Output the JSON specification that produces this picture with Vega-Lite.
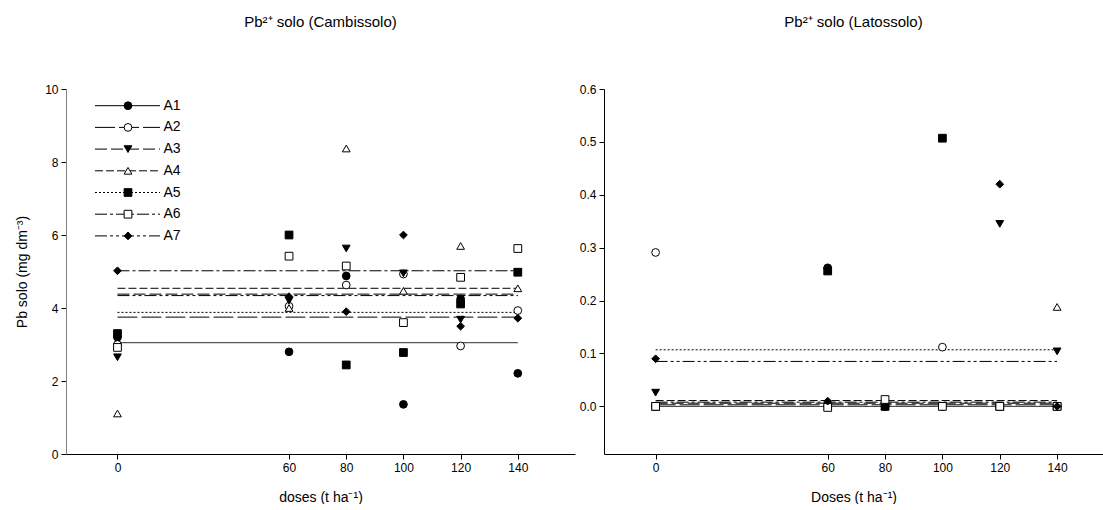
{
  "$schema": "https://vega.github.io/schema/vega-lite/v6.json",
  "padding": {"left": 15, "top": 15, "right": 0, "bottom": 0},
  "bounds": "flush",
  "spacing": 29,
  "background": "white",
  "config": {
    "font": "Liberation Sans",
    "view": {"stroke": null},
    "axis": {"grid": false, "labelFont": "Liberation Sans", "labelFontSize": 12, "labelColor": "#000", "labelFlush": false, "titleFont": "Liberation Sans", "titleFontSize": 14, "titleFontWeight": "normal", "titleColor": "#000", "domainColor": "#000", "tickColor": "#000", "tickSize": 5, "labelPadding": 3},
    "title": {"font": "Liberation Sans", "fontSize": 15, "fontWeight": "normal", "color": "#000"}
  },
  "resolve": {"scale": {"shape": "independent", "fill": "independent", "size": "independent", "strokeDash": "independent"}},
  "datasets": {
    "camb_pts": [
      {"series": "A1", "dose": 0, "value": 3.2}, {"series": "A1", "dose": 60, "value": 2.8}, {"series": "A1", "dose": 80, "value": 4.88}, {"series": "A1", "dose": 100, "value": 1.36}, {"series": "A1", "dose": 120, "value": 4.25}, {"series": "A1", "dose": 140, "value": 2.21},
      {"series": "A2", "dose": 0, "value": 3.0}, {"series": "A2", "dose": 60, "value": 4.05}, {"series": "A2", "dose": 80, "value": 4.63}, {"series": "A2", "dose": 100, "value": 4.93}, {"series": "A2", "dose": 120, "value": 2.96}, {"series": "A2", "dose": 140, "value": 3.93},
      {"series": "A3", "dose": 0, "value": 2.65}, {"series": "A3", "dose": 60, "value": 4.2}, {"series": "A3", "dose": 80, "value": 5.63}, {"series": "A3", "dose": 100, "value": 4.95}, {"series": "A3", "dose": 120, "value": 3.68}, {"series": "A3", "dose": 140, "value": 4.98},
      {"series": "A4", "dose": 0, "value": 1.11}, {"series": "A4", "dose": 60, "value": 4.0}, {"series": "A4", "dose": 80, "value": 8.37}, {"series": "A4", "dose": 100, "value": 4.47}, {"series": "A4", "dose": 120, "value": 5.7}, {"series": "A4", "dose": 140, "value": 4.54},
      {"series": "A5", "dose": 0, "value": 3.3}, {"series": "A5", "dose": 60, "value": 6.0}, {"series": "A5", "dose": 80, "value": 2.44}, {"series": "A5", "dose": 100, "value": 2.78}, {"series": "A5", "dose": 120, "value": 4.11}, {"series": "A5", "dose": 140, "value": 4.98},
      {"series": "A6", "dose": 0, "value": 2.92}, {"series": "A6", "dose": 60, "value": 5.42}, {"series": "A6", "dose": 80, "value": 5.15}, {"series": "A6", "dose": 100, "value": 3.6}, {"series": "A6", "dose": 120, "value": 4.84}, {"series": "A6", "dose": 140, "value": 5.63},
      {"series": "A7", "dose": 0, "value": 5.02}, {"series": "A7", "dose": 60, "value": 4.31}, {"series": "A7", "dose": 80, "value": 3.9}, {"series": "A7", "dose": 100, "value": 6.0}, {"series": "A7", "dose": 120, "value": 3.5}, {"series": "A7", "dose": 140, "value": 3.72}
    ],
    "camb_lines": [
      {"series": "A1", "dose": 0, "value": 3.05}, {"series": "A1", "dose": 140, "value": 3.05},
      {"series": "A2", "dose": 0, "value": 3.75}, {"series": "A2", "dose": 140, "value": 3.75},
      {"series": "A3", "dose": 0, "value": 4.38}, {"series": "A3", "dose": 140, "value": 4.38},
      {"series": "A4", "dose": 0, "value": 4.54}, {"series": "A4", "dose": 140, "value": 4.54},
      {"series": "A5", "dose": 0, "value": 3.88}, {"series": "A5", "dose": 140, "value": 3.88},
      {"series": "A6", "dose": 0, "value": 5.02}, {"series": "A6", "dose": 140, "value": 5.02},
      {"series": "A7", "dose": 0, "value": 4.34}, {"series": "A7", "dose": 140, "value": 4.34}
    ],
    "lato_pts": [
      {"series": "A1", "dose": 0, "value": 0}, {"series": "A1", "dose": 60, "value": 0.262}, {"series": "A1", "dose": 80, "value": 0}, {"series": "A1", "dose": 100, "value": 0}, {"series": "A1", "dose": 120, "value": 0}, {"series": "A1", "dose": 140, "value": 0},
      {"series": "A2", "dose": 0, "value": 0.291}, {"series": "A2", "dose": 60, "value": 0}, {"series": "A2", "dose": 80, "value": 0}, {"series": "A2", "dose": 100, "value": 0.112}, {"series": "A2", "dose": 120, "value": 0}, {"series": "A2", "dose": 140, "value": 0},
      {"series": "A3", "dose": 0, "value": 0.026}, {"series": "A3", "dose": 60, "value": 0}, {"series": "A3", "dose": 80, "value": 0}, {"series": "A3", "dose": 100, "value": 0}, {"series": "A3", "dose": 120, "value": 0.345}, {"series": "A3", "dose": 140, "value": 0.104},
      {"series": "A4", "dose": 0, "value": 0}, {"series": "A4", "dose": 60, "value": 0}, {"series": "A4", "dose": 80, "value": 0}, {"series": "A4", "dose": 100, "value": 0}, {"series": "A4", "dose": 120, "value": 0}, {"series": "A4", "dose": 140, "value": 0.188},
      {"series": "A5", "dose": 0, "value": 0}, {"series": "A5", "dose": 60, "value": 0.256}, {"series": "A5", "dose": 80, "value": 0}, {"series": "A5", "dose": 100, "value": 0.507}, {"series": "A5", "dose": 120, "value": 0}, {"series": "A5", "dose": 140, "value": 0},
      {"series": "A6", "dose": 0, "value": 0}, {"series": "A6", "dose": 60, "value": -0.002}, {"series": "A6", "dose": 80, "value": 0.013}, {"series": "A6", "dose": 100, "value": 0}, {"series": "A6", "dose": 120, "value": 0}, {"series": "A6", "dose": 140, "value": 0},
      {"series": "A7", "dose": 0, "value": 0.09}, {"series": "A7", "dose": 60, "value": 0.01}, {"series": "A7", "dose": 120, "value": 0.42}, {"series": "A7", "dose": 140, "value": 0}
    ],
    "lato_lines": [
      {"series": "A1", "dose": 0, "value": 0.0}, {"series": "A1", "dose": 140, "value": 0.0},
      {"series": "A2", "dose": 0, "value": 0.003}, {"series": "A2", "dose": 140, "value": 0.003},
      {"series": "A3", "dose": 0, "value": 0.006}, {"series": "A3", "dose": 140, "value": 0.006},
      {"series": "A4", "dose": 0, "value": 0.011}, {"series": "A4", "dose": 140, "value": 0.011},
      {"series": "A5", "dose": 0, "value": 0.107}, {"series": "A5", "dose": 140, "value": 0.107},
      {"series": "A6", "dose": 0, "value": 0.008}, {"series": "A6", "dose": 140, "value": 0.008},
      {"series": "A7", "dose": 0, "value": 0.085}, {"series": "A7", "dose": 140, "value": 0.085}
    ]
  },
  "hconcat": [
    {
      "width": 509,
      "height": 365,
      "title": {"text": "Pb²⁺ solo (Cambissolo)", "offset": 53, "anchor": "middle"},
      "layer": [
        {
          "data": {"name": "camb_lines"},
          "mark": {"type": "line", "color": "#000", "strokeWidth": 1},
          "encoding": {
            "x": {"field": "dose", "type": "quantitative", "scale": {"domain": [-18, 160], "nice": false, "zero": false}, "axis": {"values": [0, 60, 80, 100, 120, 140], "title": "doses (t ha⁻¹)", "titlePadding": 17}},
            "y": {"field": "value", "type": "quantitative", "scale": {"domain": [0, 10], "nice": false}, "axis": {"values": [0, 2, 4, 6, 8, 10], "title": "Pb solo (mg dm⁻³)", "titlePadding": 15, "domainColor": "#808080"}},
            "strokeDash": {"field": "series", "type": "nominal", "scale": {"range": [[1, 0], [20, 4], [12, 4], [8, 3], [2, 2], [12, 3, 3, 3], [12, 3, 3, 3, 3, 3]]},
              "legend": {"title": null, "orient": "none", "legendX": 28.5, "legendY": 8.7, "symbolType": "stroke", "symbolSize": 4225, "symbolStrokeColor": "#000", "symbolStrokeWidth": 1, "clipHeight": 16, "rowPadding": 5.7, "labelFontSize": 14, "labelFont": "Liberation Sans", "labelColor": "#000", "labelOffset": 3, "padding": 0, "zindex": 0}}
          }
        },
        {
          "data": {"name": "camb_pts"},
          "mark": {"type": "point", "filled": true, "stroke": "#000", "strokeWidth": 1, "opacity": 1},
          "encoding": {
            "x": {"field": "dose", "type": "quantitative"},
            "y": {"field": "value", "type": "quantitative"},
            "shape": {"field": "series", "type": "nominal", "scale": {"domain": ["A1", "A2", "A3", "A4", "A5", "A6", "A7"], "range": ["circle", "circle", "triangle-down", "triangle-up", "square", "square", "diamond"]},
              "legend": {"title": null, "orient": "none", "legendX": 56, "legendY": 8.7, "symbolStrokeWidth": 1, "clipHeight": 16, "rowPadding": 5.7, "labelFontSize": 12, "labelExpr": "''", "padding": 0, "zindex": 1}},
            "fill": {"field": "series", "type": "nominal", "scale": {"domain": ["A1", "A2", "A3", "A4", "A5", "A6", "A7"], "range": ["#000", "#fff", "#000", "#fff", "#000", "#fff", "#000"]},
              "legend": {"title": null, "orient": "none", "legendX": 56, "legendY": 8.7, "symbolStrokeWidth": 1, "clipHeight": 16, "rowPadding": 5.7, "labelFontSize": 12, "labelExpr": "''", "padding": 0, "zindex": 1}},
            "size": {"field": "series", "type": "nominal", "scale": {"domain": ["A1", "A2", "A3", "A4", "A5", "A6", "A7"], "range": [60, 60, 60, 60, 64, 64, 100]},
              "legend": {"title": null, "orient": "none", "legendX": 56, "legendY": 8.7, "symbolStrokeWidth": 1, "clipHeight": 16, "rowPadding": 5.7, "labelFontSize": 12, "labelExpr": "''", "padding": 0, "zindex": 1}}
          }
        }
      ]
    },
    {
      "width": 499,
      "height": 365,
      "title": {"text": "Pb²⁺ solo (Latossolo)", "offset": 53, "anchor": "middle"},
      "layer": [
        {
          "data": {"name": "lato_lines"},
          "mark": {"type": "line", "color": "#000", "strokeWidth": 1},
          "encoding": {
            "x": {"field": "dose", "type": "quantitative", "scale": {"domain": [-18, 156], "nice": false, "zero": false}, "axis": {"values": [0, 60, 80, 100, 120, 140], "title": "Doses (t ha⁻¹)", "titlePadding": 17}},
            "y": {"field": "value", "type": "quantitative", "scale": {"domain": [-0.09, 0.6], "nice": false, "zero": false}, "axis": {"values": [0, 0.1, 0.2, 0.3, 0.4, 0.5, 0.6], "format": ".1f", "title": null}},
            "strokeDash": {"field": "series", "type": "nominal", "scale": {"range": [[1, 0], [20, 4], [12, 4], [8, 3], [2, 2], [12, 3, 3, 3], [12, 3, 3, 3, 3, 3]]}, "legend": null}
          }
        },
        {
          "data": {"name": "lato_pts"},
          "mark": {"type": "point", "filled": true, "stroke": "#000", "strokeWidth": 1, "opacity": 1},
          "encoding": {
            "x": {"field": "dose", "type": "quantitative"},
            "y": {"field": "value", "type": "quantitative"},
            "shape": {"field": "series", "type": "nominal", "scale": {"domain": ["A1", "A2", "A3", "A4", "A5", "A6", "A7"], "range": ["circle", "circle", "triangle-down", "triangle-up", "square", "square", "diamond"]}, "legend": null},
            "fill": {"field": "series", "type": "nominal", "scale": {"domain": ["A1", "A2", "A3", "A4", "A5", "A6", "A7"], "range": ["#000", "#fff", "#000", "#fff", "#000", "#fff", "#000"]}, "legend": null},
            "size": {"field": "series", "type": "nominal", "scale": {"domain": ["A1", "A2", "A3", "A4", "A5", "A6", "A7"], "range": [60, 60, 60, 60, 64, 64, 100]}, "legend": null}
          }
        }
      ]
    }
  ]
}
